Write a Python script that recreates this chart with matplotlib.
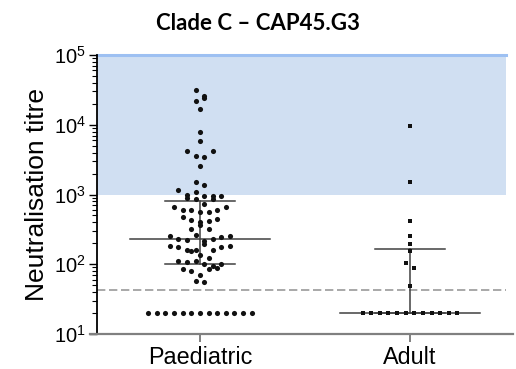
import numpy as np
import matplotlib
matplotlib.use('Agg')
import matplotlib.pyplot as plt

plt.rcParams['font.family'] = ['Liberation Sans', 'DejaVu Sans']
plt.rcParams['mathtext.fontset'] = 'custom'
plt.rcParams['mathtext.rm'] = 'Liberation Sans'

# data
groups = ['Paediatric', 'Adult']
paediatric = [32000,
              26000, 22000, 24500,
              17000,
              7900,
              5900,
              4200, 3600, 3400, 4150,
              2600,
              1500, 1350,
              1150, 1000, 1070,
              950, 900, 850, 730, 870, 940, 960,
              670, 590, 590, 560, 560, 590, 660,
              470, 430, 400, 420, 445,
              320, 365, 320,
              250, 232, 220, 265, 215, 230, 245, 250,
              180, 175, 162, 158, 195, 153, 162, 175, 180,
              137, 123, 110, 106, 112,
              102, 95, 85, 79, 70, 85, 88, 100,
              57, 55] + [20] * 13
adult = [9500, 1500, 420, 250, 195, 153, 104, 88, 49] + [20] * 12
medians = [232, 20]
q1 = [100, 20]
q3 = [820, 168]
cutoff = 43
shade_lo, shade_hi = 1000, 1e5


def swarm(values, center, gap=0.041, thresh=0.1):
    # prism-like rows: group close values, spread them sideways
    v = np.log10(values)
    order = np.argsort(-v, kind='stable')
    rows = []
    for i in order:
        if rows and v[rows[-1][0]] - v[i] <= thresh:
            rows[-1].append(i)
        else:
            rows.append([i])
    xs = np.zeros(len(values))
    for r in rows:
        r = sorted(r)
        n = len(r)
        for k, i in enumerate(r):
            xs[i] = center + (k - (n - 1) / 2) * gap
    return xs


fig = plt.figure(figsize=(5.16, 3.69), dpi=100)
ax = fig.add_axes([97/516, 35/369, 409/516, 279/369])

ax.axhspan(shade_lo, shade_hi, color='#D0DFF2', lw=0, zorder=0)
ax.axhline(shade_hi, color='#9DC0F2', lw=2.2, clip_on=False, zorder=1)
ax.axhline(cutoff, color='#999999', lw=1.2, ls=(0, (5, 2.2)), zorder=1)

ax.plot(swarm(paediatric, 0), paediatric, 'o', color='#111111', ms=3.7, mew=0, zorder=3)
ax.plot(swarm(adult, 1), adult, 's', color='#111111', ms=3.4, mew=0, zorder=3)

for x in range(len(groups)):
    ax.plot([x - 0.333, x + 0.333], [medians[x], medians[x]], color='#404040', lw=1.1, zorder=2)
    ax.plot([x - 0.167, x + 0.167], [q1[x], q1[x]], color='#404040', lw=1.1, zorder=2)
    ax.plot([x - 0.167, x + 0.167], [q3[x], q3[x]], color='#404040', lw=1.1, zorder=2)
    ax.plot([x, x], [q1[x], q3[x]], color='#404040', lw=1.1, zorder=2)

ax.set_yscale('log')
ax.set_ylim(10, 1e5)
ax.set_xlim(-0.49, 1.457)
ax.set_xticks(range(len(groups)))
ax.set_xticklabels(groups, fontsize=16.8)
ax.tick_params(axis='x', length=6, width=1.4, color='#808080', pad=3)
ax.tick_params(axis='y', which='major', length=6, width=1, labelsize=14.5, pad=2)
ax.tick_params(axis='y', which='minor', length=3.5, width=0.8)

for s in ['top', 'right', 'bottom']:
    ax.spines[s].set_visible(False)
ax.spines['left'].set_linewidth(1.3)
ax.plot([-0.017, 1.017], [0, 0], transform=ax.transAxes, color='#808080', lw=1.6,
        clip_on=False, zorder=4)

ax.set_ylabel('Neutralisation titre', fontsize=19)
ax.yaxis.set_label_coords(-0.118, 0.5)

fig.suptitle('Clade C \u2013 CAP45.G3', x=0.5, y=0.965, fontsize=16,
             fontweight='bold', family=['Lato', 'DejaVu Sans'])

fig.savefig('out.png', dpi=100)
